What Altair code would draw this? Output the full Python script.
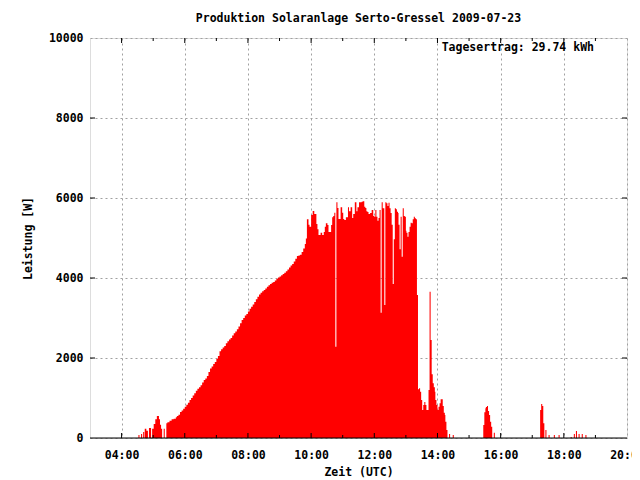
import altair as alt
import pandas as pd

times = [
    "04:32", "04:34", "04:37", "04:39", "04:41", "04:43", "04:44", "04:47", "04:50", "04:52",
    "04:56", "04:58", "05:01", "05:04", "05:07", "05:11", "05:13", "05:15", "05:17", "05:20",
    "05:22", "05:25", "05:27", "05:31", "05:35", "05:39", "05:43", "05:45", "05:48",
    "05:51", "05:54", "05:57", "06:00", "06:03", "06:06", "06:09", "06:12", "06:15", "06:18",
    "06:21", "06:24", "06:27", "06:30", "06:33", "06:36", "06:39", "06:42", "06:45", "06:48",
    "06:51", "06:54", "06:57", "07:00", "07:03", "07:06", "07:09", "07:12", "07:15", "07:18",
    "07:21", "07:24", "07:27", "07:30", "07:33", "07:36", "07:39", "07:42", "07:45", "07:48",
    "07:51", "07:54", "07:57", "08:00", "08:03", "08:06", "08:09", "08:12", "08:15", "08:18",
    "08:21", "08:24", "08:27", "08:30", "08:33", "08:36", "08:39", "08:42", "08:45", "08:48",
    "08:51", "08:54", "08:57", "09:00", "09:03", "09:06", "09:09", "09:12", "09:15", "09:18",
    "09:21", "09:24", "09:27", "09:30", "09:33", "09:36", "09:39", "09:42", "09:45", "09:48",
    "09:50", "09:52", "09:55", "09:57",
    "10:00", "10:03", "10:06", "10:10", "10:12", "10:14", "10:18", "10:21", "10:24", "10:26",
    "10:28", "10:31", "10:33", "10:38", "10:40", "10:42", "10:44", "10:46", "10:48", "10:50",
    "10:52", "10:56", "10:59", "11:01", "11:03", "11:06", "11:10", "11:12", "11:15", "11:18",
    "11:20", "11:23", "11:26", "11:28", "11:31", "11:36", "11:38", "11:41", "11:43", "11:45",
    "11:47", "11:49", "11:52", "11:55", "11:58", "12:00", "12:02", "12:04", "12:06", "12:08",
    "12:10", "12:12", "12:14", "12:16", "12:19", "12:21", "12:23", "12:25", "12:27", "12:29",
    "12:31", "12:33", "12:35", "12:37", "12:39", "12:41", "12:43", "12:45", "12:46", "12:48",
    "12:50", "12:52", "12:54", "12:56", "12:58", "13:00", "13:01", "13:03", "13:05", "13:07",
    "13:09", "13:11", "13:13", "13:15", "13:17", "13:19", "13:21", "13:23", "13:25", "13:27",
    "13:29", "13:31", "13:33", "13:35", "13:37", "13:39", "13:41", "13:43", "13:45", "13:47",
    "13:49", "13:51", "13:53", "13:55", "13:56", "13:58", "14:00", "14:02", "14:04", "14:06",
    "14:08", "14:10", "14:12", "14:14", "14:15", "14:17", "14:19", "14:22", "14:24", "14:29",
    "14:31",
    "15:27", "15:29", "15:31", "15:32", "15:34", "15:36", "15:38", "15:40", "15:42", "15:44",
    "15:47", "15:49",
    "17:15", "17:17", "17:19", "17:21", "17:23", "17:25", "17:27", "17:31", "17:33", "17:41",
    "17:43", "17:50", "17:52", "18:13", "18:15", "18:19", "18:21", "18:23", "18:25", "18:28",
    "18:30", "18:34", "18:36", "18:41", "18:43",
]

watts = [
    75, 0, 100, 0, 150, 0, 230, 180, 0, 250,
    0, 233, 350, 467, 550, 467, 333, 233, 0, 233,
    0, 367, 392, 433, 467, 483, 517, 550, 583,
    650, 690, 730, 780, 830, 880, 950, 1000, 1060, 1120,
    1180, 1230, 1270, 1320, 1390, 1450, 1490, 1550, 1650, 1740,
    1790, 1850, 1900, 1980, 2050, 2170, 2220, 2260, 2300, 2370,
    2420, 2460, 2500, 2560, 2620, 2660, 2720, 2790, 2870, 2950,
    3000, 3060, 3100, 3160, 3230, 3280, 3340, 3400, 3470, 3530,
    3590, 3630, 3670, 3700, 3740, 3780, 3820, 3850, 3880, 3900,
    3940, 3980, 4010, 4040, 4070, 4100, 4130, 4170, 4210, 4260,
    4310, 4350, 4410, 4480, 4550, 4560, 4580, 4650, 4740, 4850,
    4990, 5470, 5330, 5280,
    5575, 5675, 5600, 5350, 5217, 5075, 5133, 5075, 5150, 5283,
    5367, 5325, 5150, 5325, 5517, 5550, 5633, 2283, 5892, 5750,
    5475, 5767, 5633, 5475, 5450, 5517, 5767, 5667, 5767, 5500,
    5600, 5892, 5667, 5767, 5892, 5908, 5917, 5783, 5750, 5667,
    5650, 5600, 5625, 5700, 5550, 5533, 5700, 5533, 5433, 5500,
    5700, 3133, 5892, 5742, 3325, 5892, 5867, 5800, 5883, 5742,
    5625, 5333, 3850, 4967, 5742, 5717, 5658, 5625, 5333, 4717,
    5533, 4533, 5742, 5550, 5533, 5183, 5133, 5033, 5150, 5283,
    5383, 5367, 5467, 5533, 5492, 5467, 3575, 1217, 1242, 1158,
    950, 700, 825, 900, 825, 700, 700, 1200, 3658, 2450,
    1592, 1367, 1267, 1158, 950, 825, 700, 783, 867, 967,
    967, 800, 633, 575, 408, 200, 0, 100, 0, 75,
    0,
    325, 642, 742, 775, 800, 675, 575, 408, 283, 0,
    133, 0,
    700, 850, 800, 367, 0, 200, 0, 75, 0, 75,
    0, 75, 0, 25, 0, 100, 0, 175, 0, 100,
    0, 100, 0, 75, 0,
]

x_major = [240, 360, 480, 600, 720, 840, 960, 1080, 1200]
x_minor = [300, 420, 540, 660, 780, 900, 1020, 1140]
y_major = [0, 2000, 4000, 6000, 8000, 10000]

title_text = "Produktion Solaranlage Serto-Gressel 2009-07-23"
note_text = "Tagesertrag: 29.74 kWh"

W, H = 537, 400
FONT = "DejaVu Sans Mono"
FS = 11.5


def to_min(s):
    h, m = s.split(":")
    return int(h) * 60 + int(m)


df = pd.DataFrame({"t": [to_min(s) for s in times], "w": watts})

xs = alt.Scale(domain=[180, 1200], nice=False, zero=False)
ys = alt.Scale(domain=[0, 10000], nice=False)

x_axis = alt.Axis(
    values=x_major,
    labelExpr="(datum.value < 600 ? '0' : '') + floor(datum.value / 60) + ':00'",
    grid=True, gridColor="#a0a0a0", gridDash=[2, 3], gridWidth=1,
    ticks=False, domain=False, labelFlush=False,
    labelFont=FONT, labelFontSize=FS, labelFontWeight="bold", labelColor="black",
    labelPadding=11,
    title="Zeit (UTC)", titleFont=FONT, titleFontSize=FS, titleFontWeight="bold",
    titleColor="black", titlePadding=6,
)
y_axis = alt.Axis(
    values=y_major, format="d",
    grid=True, gridColor="#a0a0a0", gridDash=[2, 3], gridWidth=1,
    ticks=False, domain=False,
    labelFont=FONT, labelFontSize=FS, labelFontWeight="bold", labelColor="black",
    labelPadding=7,
    title="Leistung [W]", titleFont=FONT, titleFontSize=FS, titleFontWeight="bold",
    titleColor="black", titleX=-62, titleY=200, titleBaseline="middle",
)

area = alt.Chart(df).mark_area(interpolate="step-after", color="#ff0000", opacity=1).encode(
    x=alt.X("t:Q", scale=xs, axis=x_axis),
    y=alt.Y("w:Q", scale=ys, axis=y_axis),
)

maj = pd.DataFrame({"t": x_major[:-1]})
mnr = pd.DataFrame({"t": x_minor})
ymaj = pd.DataFrame({"w": y_major[1:-1]})

tick_layers = [
    alt.Chart(maj).mark_rule(color="black").encode(x=alt.X("t:Q", scale=xs), y=alt.value(H), y2=alt.value(H - 5)),
    alt.Chart(maj).mark_rule(color="black").encode(x=alt.X("t:Q", scale=xs), y=alt.value(0), y2=alt.value(5)),
    alt.Chart(mnr).mark_rule(color="black").encode(x=alt.X("t:Q", scale=xs), y=alt.value(H), y2=alt.value(H - 3)),
    alt.Chart(mnr).mark_rule(color="black").encode(x=alt.X("t:Q", scale=xs), y=alt.value(0), y2=alt.value(3)),
    alt.Chart(ymaj).mark_rule(color="black").encode(y=alt.Y("w:Q", scale=ys), x=alt.value(0), x2=alt.value(5)),
    alt.Chart(ymaj).mark_rule(color="black").encode(y=alt.Y("w:Q", scale=ys), x=alt.value(W - 5), x2=alt.value(W)),
]

one = pd.DataFrame({"label": [note_text]})
border = alt.Chart(one).mark_rule(color="black", strokeWidth=1).encode(
    y=alt.value(H), x=alt.value(0), x2=alt.value(W)
)
note = alt.Chart(one).mark_text(
    align="right", baseline="middle", font=FONT, fontSize=FS, fontWeight="bold", color="black"
).encode(text="label:N", x=alt.value(504), y=alt.value(10))

chart = alt.layer(area, *tick_layers, border, note).properties(
    width=W, height=H,
    title=alt.TitleParams(
        title_text, font=FONT, fontSize=FS, fontWeight="bold", color="black",
        anchor="middle", frame="group", offset=8,
    ),
    autosize=alt.AutoSizeParams(type="none"),
    padding={"left": 82, "top": 30, "right": 5, "bottom": 40},
).configure_view(stroke="black", strokeWidth=1).configure(background="white")

chart.save("out.html", embed_options={"renderer": "svg", "actions": False})
